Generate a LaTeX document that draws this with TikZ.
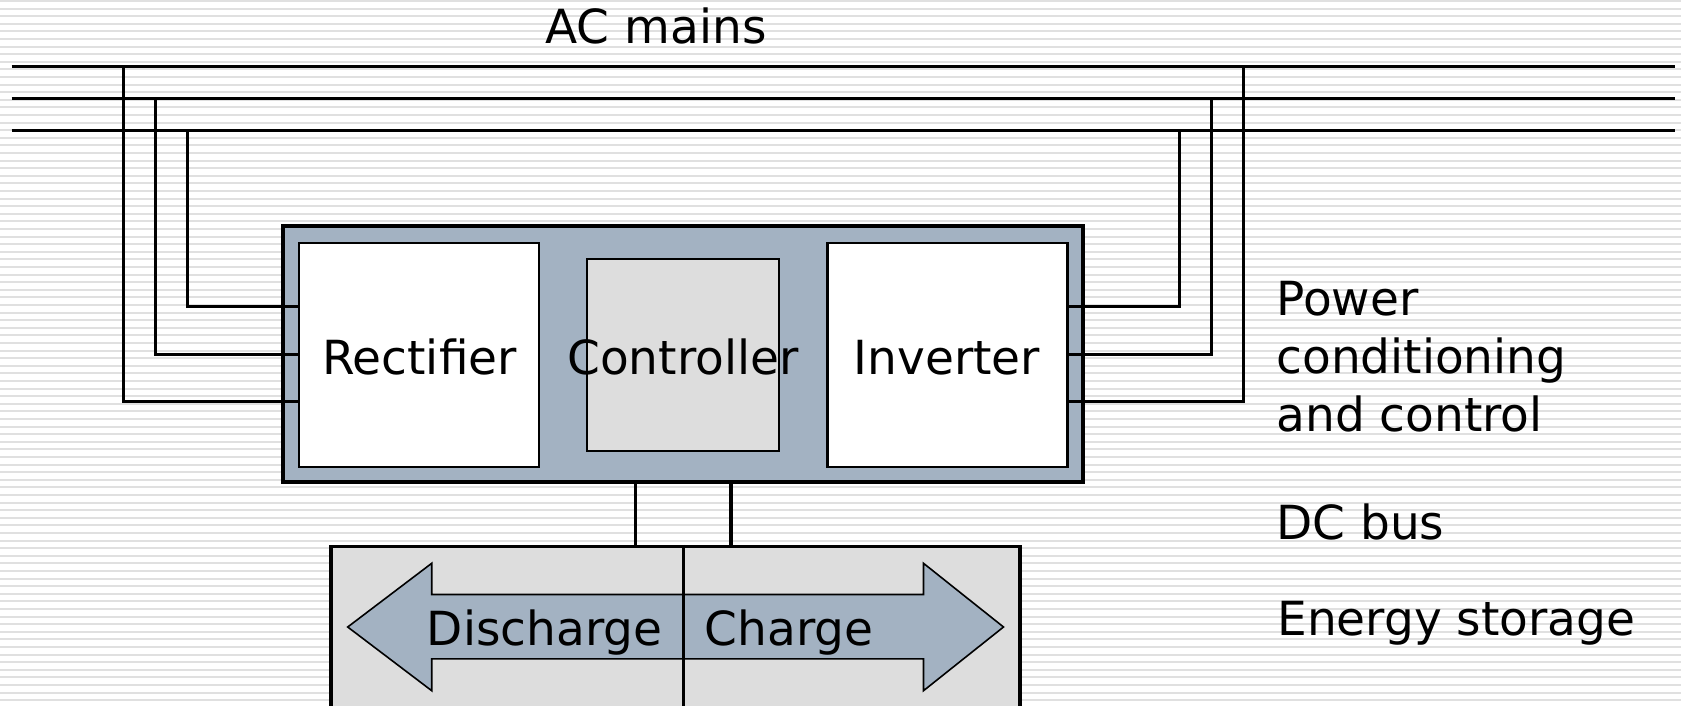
\documentclass[tikz,border=0pt]{standalone}
\usepackage{fontspec}
\setmainfont{DejaVu Sans}
\definecolor{bluegrey}{HTML}{A3B2C2}
\definecolor{lightgrey}{HTML}{DDDDDD}
\definecolor{stripe}{HTML}{E0E0E0}
\begin{document}
\begin{tikzpicture}[x=0.5pt,y=-0.5pt,line join=miter,
  wire/.style={line width=1.7pt},
  lbl/.style={inner sep=0pt,font=\fontsize{23.5}{29}\selectfont},
  outerbox/.style={draw,line width=1.7pt,fill=bluegrey,inner sep=0pt},
  whitebox/.style={draw,line width=1.1pt,fill=white,inner sep=0pt},
  greybox/.style={draw,line width=1.1pt,fill=lightgrey,inner sep=0pt},
  storebox/.style={draw,line width=1.7pt,fill=lightgrey,inner sep=0pt},
  arrowshape/.style={draw,line width=0.8pt,fill=bluegrey}]
\useasboundingbox (0,0) rectangle (1681,706);
\clip (0,0) rectangle (1681,706);
\fill[white] (0,0) rectangle (1681,706);
\foreach \i in {0,...,93} \fill[stripe] (0,\i*7.6) rectangle (1681,\i*7.6+2);

% AC mains
\coordinate (b1w) at (11.7,66.7);  \coordinate (b1e) at (1675,66.7);
\coordinate (b2w) at (11.7,98.7);  \coordinate (b2e) at (1675,98.7);
\coordinate (b3w) at (11.7,130.7); \coordinate (b3e) at (1675,130.7);
\draw[wire] (b1w) -- (b1e);
\draw[wire] (b2w) -- (b2e);
\draw[wire] (b3w) -- (b3e);
\node[lbl,anchor=base] (acm) at (656,44) {AC mains};

% boxes
\node[outerbox,minimum width=400pt,minimum height=128pt] (pcc) at (683,354) {};
\node[whitebox,minimum width=120pt,minimum height=112pt] (rect) at (419.3,354.7) {};
\node[whitebox,minimum width=120pt,minimum height=112pt] (inv) at (947.5,355) {};
\node[greybox,minimum width=96pt,minimum height=95.85pt] (ctrl) at (683.3,354.9) {};
\node[lbl,anchor=base] (rectl) at (419.5,374) {Rectifier};
\node[lbl,anchor=base] (ctrll) at (683,374) {Controller};
\node[lbl,anchor=base] (invl) at (947,374) {Inverter};

% taps
\coordinate (LA) at (123.3,66.7);  \coordinate (rA) at (rect.west |- 0,401.7);
\coordinate (LB) at (155.3,98.7);  \coordinate (rB) at (rect.west |- 0,354.3);
\coordinate (LC) at (187.3,130.7); \coordinate (rC) at (rect.west |- 0,306.7);
\coordinate (RA) at (1243.3,66.7); \coordinate (iA) at (inv.east |- 0,401.7);
\coordinate (RB) at (1211.7,98.7); \coordinate (iB) at (inv.east |- 0,354.3);
\coordinate (RC) at (1179.3,130.7);\coordinate (iC) at (inv.east |- 0,306.7);
\draw[wire] (LA) |- (rA);
\draw[wire] (LB) |- (rB);
\draw[wire] (LC) |- (rC);
\draw[wire] (RA) |- (iA);
\draw[wire] (RB) |- (iB);
\draw[wire] (RC) |- (iC);

% storage
\node[storebox,minimum width=344.5pt,minimum height=96.75pt] (store) at (675.5,643.25) {};
\draw[wire] (pcc.south -| 635.5,0) -- (store.north -| 635.5,0);
\draw[wire] (pcc.south -| 731,0) -- (store.north -| 731,0);
\draw[arrowshape] (347.7,627) -- (431.7,563.3) -- (431.7,594.5) -- (923.5,594.5)
  -- (923.5,563.3) -- (1003.5,627) -- (923.5,690.7) -- (923.5,658.8)
  -- (431.7,658.8) -- (431.7,690.7) -- cycle;
\draw[wire] (store.north -| 683.3,0) -- (store.south -| 683.3,0);
\node[lbl,anchor=base] (dis) at (544.7,645) {Discharge};
\node[lbl,anchor=base] (chg) at (789,645) {Charge};

% side labels
\node[lbl,anchor=base west,align=left] (pcl) at (1276,431.7) {Power\\conditioning\\and control};
\node[lbl,anchor=base west] (dcl) at (1276,539.3) {DC bus};
\node[lbl,anchor=base west] (esl) at (1277,635) {Energy storage};
\end{tikzpicture}
\end{document}
